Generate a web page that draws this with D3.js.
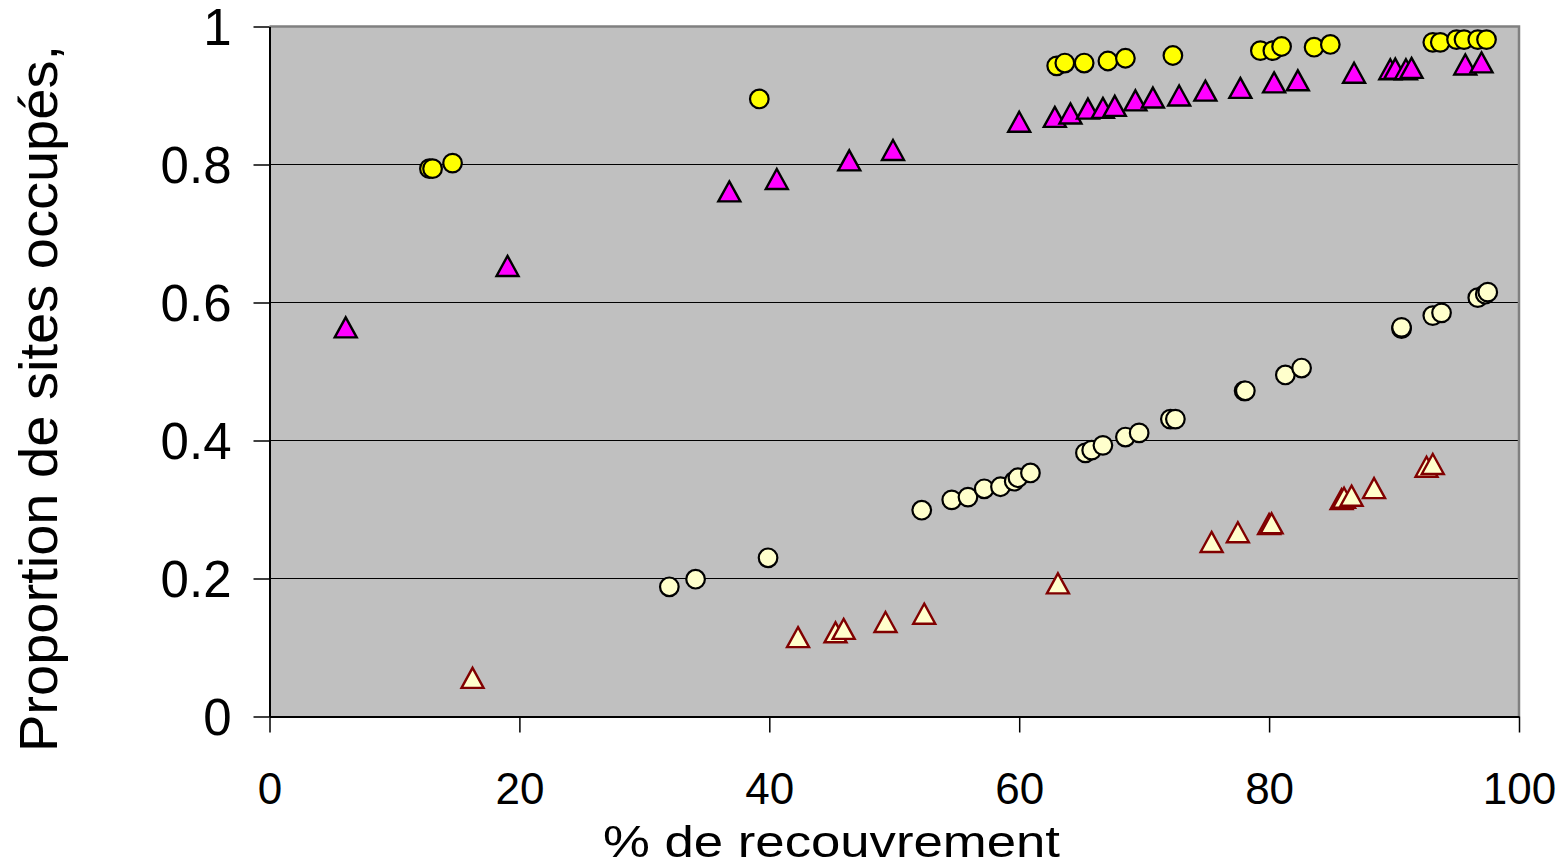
<!DOCTYPE html>
<html>
<head>
<meta charset="utf-8">
<script src="https://cdn.jsdelivr.net/npm/d3@7"></script>
<style>
  body { margin: 0; background: #fff; }
  text { font-family: "Liberation Sans", Arial, sans-serif; fill: #000; }
</style>
</head>
<body>
<div class="chart"></div>
<script>
var svgWidth = 1568;
var svgHeight = 868;

var margin = { top: 26.5, right: 49, bottom: 151.5, left: 269.5 };
var width = svgWidth - margin.left - margin.right;
var height = svgHeight - margin.top - margin.bottom;

// series
var yellowX = [12.8, 13.05, 14.65, 39.2, 63.0, 63.65, 65.2, 67.1, 68.5, 72.3, 79.3, 80.3, 81.0, 83.6, 84.9, 93.1, 93.7, 95.0, 95.6, 96.7, 97.4];
var yellowY = [0.794, 0.794, 0.802, 0.895, 0.943, 0.947, 0.947, 0.950, 0.954, 0.958, 0.965, 0.965, 0.971, 0.970, 0.974, 0.977, 0.977, 0.981, 0.981, 0.981, 0.981];

var magentaX = [6.1, 19.05, 36.8, 40.6, 46.4, 49.9, 60.0, 62.85, 64.1, 65.5, 66.7, 67.65, 69.3, 70.7, 72.8, 74.9, 77.7, 80.4, 82.3, 86.8, 89.7, 90.1, 90.95, 91.4, 95.7, 97.0];
var magentaY = [0.564, 0.653, 0.761, 0.779, 0.806, 0.821, 0.862, 0.869, 0.874, 0.881, 0.882, 0.885, 0.893, 0.897, 0.900, 0.907, 0.911, 0.919, 0.922, 0.933, 0.938, 0.939, 0.938, 0.940, 0.945, 0.948];

var paleX = [32.0, 34.1, 39.9, 52.2, 54.6, 55.9, 57.2, 58.5, 59.6, 59.9, 60.9, 65.3, 65.8, 66.7, 68.5, 69.6, 72.1, 72.5, 78.0, 78.1, 81.3, 82.6, 90.6, 90.6, 93.1, 93.8, 96.7, 97.3, 97.5];
var paleY = [0.188, 0.199, 0.230, 0.299, 0.314, 0.318, 0.330, 0.333, 0.341, 0.346, 0.353, 0.382, 0.386, 0.393, 0.405, 0.411, 0.431, 0.431, 0.472, 0.472, 0.495, 0.505, 0.562, 0.564, 0.581, 0.585, 0.607, 0.612, 0.615];

var paleTriX = [16.25, 42.3, 45.3, 45.95, 49.3, 52.4, 63.1, 75.4, 77.5, 80.0, 80.2, 85.8, 86.0, 86.6, 88.4, 92.6, 93.1];
var paleTriY = [0.056, 0.115, 0.122, 0.127, 0.137, 0.149, 0.193, 0.253, 0.267, 0.279, 0.280, 0.315, 0.317, 0.320, 0.331, 0.362, 0.366];

var xTicks = [0, 20, 40, 60, 80, 100];
var yTicks = [0, 0.2, 0.4, 0.6, 0.8, 1];

function zip(xs, ys) {
  return xs.map(function (x, i) { return { x: x, y: ys[i] }; });
}

var svg = d3.select(".chart")
  .append("svg")
  .attr("width", svgWidth)
  .attr("height", svgHeight);

var chartGroup = svg.append("g")
  .attr("transform", `translate(${margin.left}, ${margin.top})`);

var xScale = d3.scaleLinear().domain([0, 100]).range([0, width]);
var yScale = d3.scaleLinear().domain([0, 1]).range([height, 0]);

// plot area
chartGroup.append("rect")
  .attr("x", 0).attr("y", 0)
  .attr("width", width).attr("height", height)
  .attr("fill", "#c0c0c0");

// gridlines
chartGroup.selectAll(".grid")
  .data(yTicks.filter(d => d > 0 && d < 1))
  .enter()
  .append("line")
  .attr("x1", 0).attr("x2", width)
  .attr("y1", d => yScale(d)).attr("y2", d => yScale(d))
  .attr("stroke", "#000")
  .attr("stroke-width", 1);

// gray border top and right
chartGroup.append("path")
  .attr("d", `M0,0H${width}V${height}`)
  .attr("fill", "none")
  .attr("stroke", "#808080")
  .attr("stroke-width", 2.5);

// axes
var leftAxis = d3.axisLeft(yScale).tickValues(yTicks).tickSize(16).tickSizeOuter(0)
  .tickFormat(d => d === 0 || d === 1 ? d3.format("d")(d) : d3.format(".1f")(d));
var bottomAxis = d3.axisBottom(xScale).tickValues(xTicks).tickSize(16).tickSizeOuter(0);

var yAxis = chartGroup.append("g").call(leftAxis);
var xAxis = chartGroup.append("g").attr("transform", `translate(0,${height})`).call(bottomAxis);

[xAxis, yAxis].forEach(function (ax) {
  ax.select(".domain").attr("stroke", "#000").attr("stroke-width", 2);
  ax.selectAll(".tick line").attr("stroke", "#000").attr("stroke-width", 1.5);
  ax.selectAll("text").style("font-family", "'Liberation Sans', Arial, sans-serif").attr("fill", "#000");
});

yAxis.selectAll("text")
  .style("font-size", "51px")
  .attr("x", -38)
  .attr("dy", "0.36em");

xAxis.selectAll("text")
  .style("font-size", "44px")
  .attr("y", 87)
  .attr("dy", 0);

// series markers
var tri = "M0,-10L11,10L-11,10Z";

function drawCircles(data, fill) {
  chartGroup.append("g")
    .selectAll("circle")
    .data(data)
    .enter()
    .append("circle")
    .attr("cx", d => xScale(d.x))
    .attr("cy", d => yScale(d.y))
    .attr("r", 9.3)
    .attr("fill", fill)
    .attr("stroke", "#000")
    .attr("stroke-width", 2.2);
}

function drawTriangles(data, fill, stroke) {
  chartGroup.append("g")
    .selectAll("path")
    .data(data)
    .enter()
    .append("path")
    .attr("d", tri)
    .attr("transform", d => `translate(${xScale(d.x)},${yScale(d.y)})`)
    .attr("fill", fill)
    .attr("stroke", stroke)
    .attr("stroke-width", 2.4)
    .attr("stroke-linejoin", "miter");
}

drawCircles(zip(paleX, paleY), "#ffffcc");
drawTriangles(zip(paleTriX, paleTriY), "#ffffcc", "#800000");
drawTriangles(zip(magentaX, magentaY), "#ff00ff", "#000");
drawCircles(zip(yellowX, yellowY), "#ffff00");

// axis titles
svg.append("text")
  .attr("x", 831.5)
  .attr("y", 857)
  .attr("text-anchor", "middle")
  .attr("textLength", 457)
  .attr("lengthAdjust", "spacingAndGlyphs")
  .style("font-size", "44px")
  .text("% de recouvrement");

svg.append("text")
  .attr("transform", "translate(57,398.5) rotate(-90)")
  .attr("text-anchor", "middle")
  .attr("textLength", 707)
  .attr("lengthAdjust", "spacingAndGlyphs")
  .style("font-size", "53px")
  .text("Proportion de sites occupés,");
</script>
</body>
</html>
